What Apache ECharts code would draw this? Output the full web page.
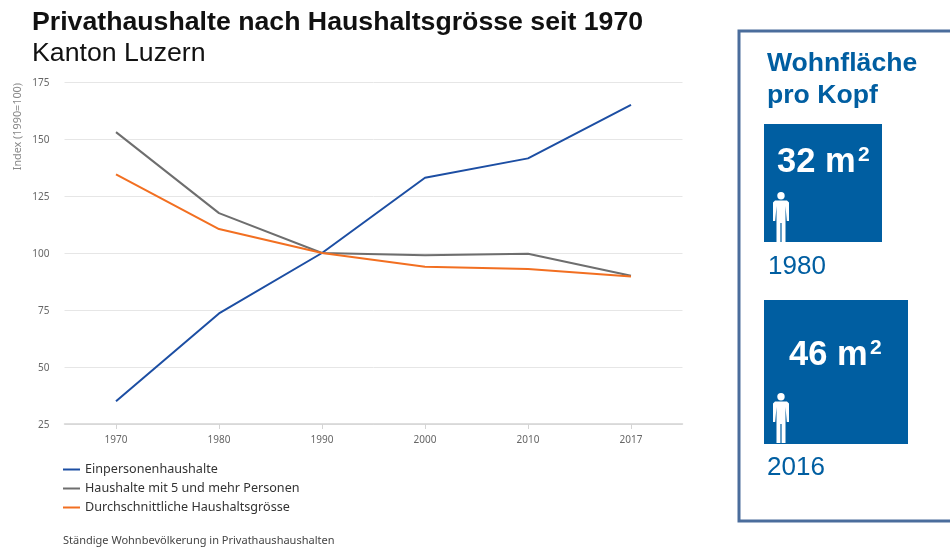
<!DOCTYPE html>
<html><head><meta charset="utf-8">
<style>html,body{margin:0;padding:0;background:#fff}#c{width:950px;height:550px}</style>
<script src="https://cdn.jsdelivr.net/npm/echarts@6/dist/echarts.min.js"></script>
</head><body><div id="c"></div>
<script>
const categories = ['1970','1980','1990','2000','2010','2017'];
const einperson = [35, 73.5, 100, 133, 141.5, 165];
const fuenfUndMehr = [153, 117.5, 100, 99, 99.7, 90];
const durchschnitt = [134.5, 110.5, 100, 94, 93, 89.7];
const seriesNames = ['Einpersonenhaushalte','Haushalte mit 5 und mehr Personen','Durchschnittliche Haushaltsgrösse'];
const seriesColors = ['#1c4ea3','#6e6e6e','#f26f21'];
const seriesValues = [einperson, fuenfUndMehr, durchschnitt];
const panelBlue = '#005ea1';
const chartFont = '"Noto Sans", sans-serif';
const headFont = '"Liberation Sans", Arial, sans-serif';

function figure(x, y){
  return {type:'group', x:x, y:y, silent:true, children:[
    {type:'circle',shape:{cx:9,cy:3.7,r:3.7},style:{fill:'#fff'}},
    {type:'polygon',shape:{points:[[3,8.5],[15,8.5],[17,10.5],[17,29],[14.8,29],[13.5,14],[13.5,50],[9.6,50],[9.6,31],[8.4,31],[8.4,50],[4.5,50],[4.5,14],[3.2,29],[1,29],[1,10.5]]},style:{fill:'#fff'}}
  ]};
}
const chart = echarts.init(document.getElementById('c'), null, {renderer:'canvas'});
chart.setOption({
  animation:false,
  backgroundColor:'#fff',
  title:[
    {text:'Privathaushalte nach Haushaltsgrösse seit 1970', left:27, top:4,
     textStyle:{fontFamily:headFont,fontWeight:'bold',fontSize:26.7,color:'#111'}},
    {text:'Kanton Luzern', left:27, top:35,
     textStyle:{fontFamily:headFont,fontWeight:'normal',fontSize:26.7,color:'#111'}}
  ],
  grid:{left:64.5,top:82,width:618,height:342,containLabel:false},
  legend:{orient:'vertical',left:58,top:458,itemWidth:17,itemHeight:2,itemGap:6,
    icon:'rect',selectedMode:false,
    data:seriesNames,
    textStyle:{fontFamily:chartFont,fontSize:12.6,color:'#333',padding:[0,0,0,0]}},
  xAxis:{type:'category',data:categories,boundaryGap:true,
    axisLine:{lineStyle:{color:'#d4d4d4',width:1.5}},
    axisTick:{show:true,alignWithLabel:true,length:5,lineStyle:{color:'#d4d4d4'}},
    axisLabel:{fontFamily:chartFont,fontSize:10,color:'#666',margin:11}},
  yAxis:{type:'value',min:25,max:175,interval:25,
    name:'Index (1990=100)',nameLocation:'end',nameRotate:90,
    nameTextStyle:{fontFamily:chartFont,fontSize:10.8,color:'#888',align:'right',verticalAlign:'bottom',padding:[0,0,41,0]},
    nameGap:-1,
    axisLine:{show:false},axisTick:{show:false},
    splitLine:{lineStyle:{color:'#e6e6e6',width:1}},
    axisLabel:{formatter:'{a|{value}}',margin:15,
      rich:{a:{fontFamily:chartFont,fontSize:10,color:'#666',padding:[2,0,0,0]}}}},
  series:seriesValues.map((v,i)=>({
    name:seriesNames[i],type:'line',data:v,symbol:'none',
    lineStyle:{color:seriesColors[i],width:2},itemStyle:{color:seriesColors[i]}
  })),
  graphic:[
    {type:'rect',silent:true,shape:{x:739,y:31,width:240,height:490},style:{fill:'#fff',stroke:'#4a6d9c',lineWidth:3}},
    {type:'text',silent:true,x:767,y:48,style:{text:'Wohnfläche\npro Kopf',fontFamily:headFont,fontWeight:'bold',fontSize:26.6,lineHeight:32,fill:panelBlue}},
    {type:'rect',silent:true,shape:{x:764,y:124,width:118,height:118},style:{fill:panelBlue}},
    {type:'text',silent:true,x:777,y:145,style:{text:'32 m',fontFamily:headFont,fontWeight:'bold',fontSize:34.5,fill:'#fff'}},
    {type:'text',silent:true,x:858,y:145,style:{text:'2',fontFamily:headFont,fontWeight:'bold',fontSize:21,fill:'#fff'}},
    figure(772,192),
    {type:'text',silent:true,x:768,y:254,style:{text:'1980',fontFamily:headFont,fontSize:26,fill:panelBlue}},
    {type:'rect',silent:true,shape:{x:764,y:300,width:144,height:144},style:{fill:panelBlue}},
    {type:'text',silent:true,x:789,y:338,style:{text:'46 m',fontFamily:headFont,fontWeight:'bold',fontSize:34.5,fill:'#fff'}},
    {type:'text',silent:true,x:870,y:338,style:{text:'2',fontFamily:headFont,fontWeight:'bold',fontSize:21,fill:'#fff'}},
    figure(772,393),
    {type:'text',silent:true,x:767,y:455,style:{text:'2016',fontFamily:headFont,fontSize:26,fill:panelBlue}},
    {type:'text',silent:true,x:63,y:535,style:{text:'Ständige Wohnbevölkerung in Privathaushaushalten',fontFamily:chartFont,fontSize:11,fill:'#444'}}
  ]
});
</script></body></html>
